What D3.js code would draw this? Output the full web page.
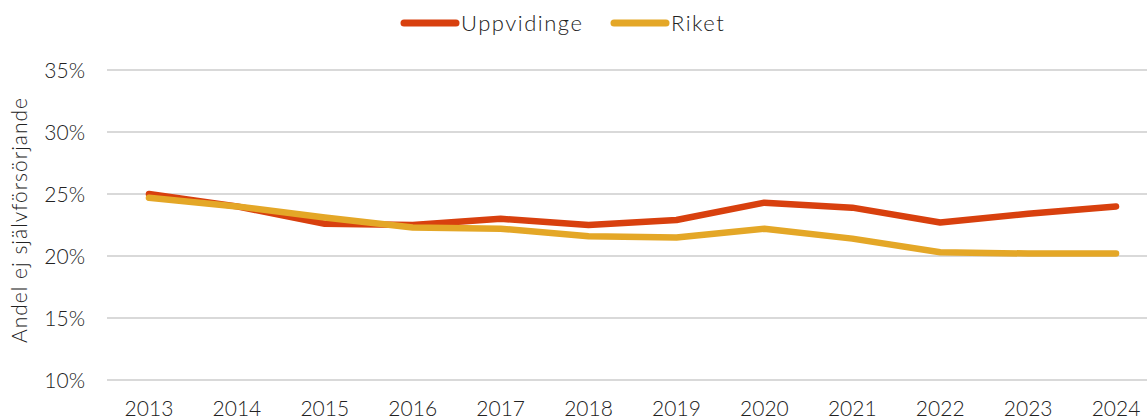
<!DOCTYPE html>
<html>
<head>
<meta charset="utf-8">
<script src="https://cdn.jsdelivr.net/npm/d3@7"></script>
<style>
  html, body { margin: 0; padding: 0; background: #fff; }
  svg text { font-family: Lato, "Open Sans", sans-serif; font-weight: 300; fill: #222; }
</style>
</head>
<body>
<svg id="chart" width="1147" height="420"></svg>
<script>
// Andel ej självförsörjande, Uppvidinge jämfört med riket
const years = ["2013","2014","2015","2016","2017","2018","2019","2020","2021","2022","2023","2024"];
const uppvidinge = [25.0, 24.0, 22.6, 22.5, 23.0, 22.5, 22.9, 24.3, 23.9, 22.7, 23.4, 24.0];
const riket      = [24.7, 24.0, 23.1, 22.3, 22.2, 21.6, 21.5, 22.2, 21.4, 20.3, 20.2, 20.2];
const yTicks = [10, 15, 20, 25, 30, 35];
const seriesNames = ["Uppvidinge", "Riket"];
const seriesColors = ["#d8400e", "#e4a727"];

const svg = d3.select("#chart");
const W = 1147, H = 420;

const x = d3.scaleBand().domain(years).range([105, 1160]);
const y = d3.scaleLinear().domain([10, 35]).range([380, 70]);

// gridlines
svg.append("g")
  .selectAll("line")
  .data(yTicks)
  .join("line")
  .attr("x1", 107).attr("x2", W)
  .attr("y1", d => y(d)).attr("y2", d => y(d))
  .attr("stroke", "#d9d9d9").attr("stroke-width", 2);

// y axis labels
const yAxis = d3.axisLeft(y).tickValues(yTicks).tickFormat(d => d + "%").tickSize(0).tickPadding(0);
const gy = svg.append("g").attr("transform", "translate(85,0)").call(yAxis);
gy.select(".domain").remove();
gy.selectAll("text").attr("font-size", 21).attr("dy", "0.35em")
  .style("font-family", "Lato, sans-serif").style("font-weight", 300).attr("fill", "#222");

// x axis labels
const xAxis = d3.axisBottom(x).tickSize(0).tickPadding(0);
const gx = svg.append("g").attr("transform", "translate(0,401)").call(xAxis);
gx.select(".domain").remove();
gx.selectAll("text").attr("font-size", 21).attr("dy", "0.71em")
  .style("font-family", "Lato, sans-serif").style("font-weight", 300).attr("fill", "#222");

// y axis title
svg.append("text")
  .attr("transform", "translate(27,220) rotate(-90)")
  .attr("text-anchor", "middle")
  .attr("font-size", 21)
  .attr("letter-spacing", 1)
  .text("Andel ej självförsörjande");

// series lines
const line = d3.line()
  .x((d, i) => x(years[i]) + x.bandwidth() / 2)
  .y(d => y(d));

[uppvidinge, riket].forEach((vals, i) => {
  svg.append("path")
    .datum(vals)
    .attr("d", line)
    .attr("fill", "none")
    .attr("stroke", seriesColors[i])
    .attr("stroke-width", 6.5)
    .attr("stroke-linecap", "round")
    .attr("stroke-linejoin", "round");
});

// legend
const legendX = [404, 614];
seriesNames.forEach((name, i) => {
  const g = svg.append("g").attr("transform", `translate(${legendX[i]},23)`);
  g.append("line").attr("x1", 0).attr("x2", 52).attr("y1", 0).attr("y2", 0)
    .attr("stroke", seriesColors[i]).attr("stroke-width", 7).attr("stroke-linecap", "round");
  g.append("text").attr("x", 57).attr("y", 0).attr("dy", "0.35em")
    .attr("font-size", 22).attr("letter-spacing", 1.5).text(name);
});
</script>
</body>
</html>
